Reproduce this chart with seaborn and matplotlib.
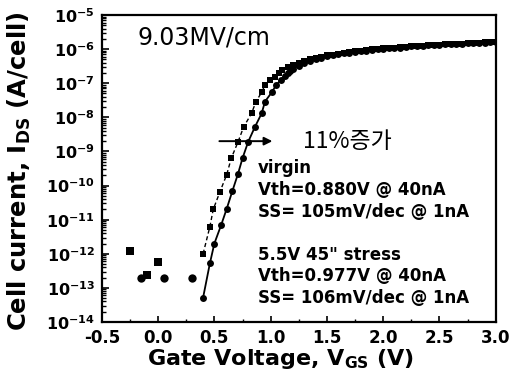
import math
import matplotlib
matplotlib.use("Agg")
import matplotlib.pyplot as plt
import seaborn as sns
import pandas as pd
from matplotlib.ticker import LogLocator, FuncFormatter, MultipleLocator, NullFormatter

# ---------------- data ----------------
virgin_v = [0.40, 0.46, 0.49, 0.55, 0.61, 0.65, 0.71, 0.76, 0.83, 0.87, 0.92, 0.95, 0.99, 1.04, 1.07,
            1.10, 1.15, 1.20, 1.25, 1.30, 1.35, 1.40, 1.45, 1.50, 1.55, 1.60, 1.65, 1.70, 1.75, 1.80,
            1.85, 1.90, 1.95, 2.00, 2.05, 2.10, 2.15, 2.20, 2.25, 2.30, 2.35, 2.40, 2.45, 2.50, 2.55,
            2.60, 2.65, 2.70, 2.75, 2.80, 2.85, 2.90, 2.95, 3.00]
virgin_i = [1.0e-12, 6.2e-12, 2.0e-11, 6.6e-11, 2.1e-10, 6.3e-10, 1.9e-9, 5.2e-9, 1.3e-8, 2.9e-8,
            5.4e-8, 8.9e-8, 1.23e-7, 1.55e-7, 2.0e-7,
            2.4e-7, 2.95e-7, 3.5e-7, 4.0e-7, 4.5e-7, 5.0e-7, 5.5e-7, 6.0e-7, 6.5e-7, 6.9e-7, 7.4e-7,
            7.8e-7, 8.1e-7, 8.5e-7, 8.9e-7, 9.3e-7, 9.8e-7, 1.00e-6, 1.05e-6, 1.07e-6, 1.10e-6,
            1.12e-6, 1.17e-6, 1.20e-6, 1.23e-6, 1.26e-6, 1.29e-6, 1.32e-6, 1.35e-6, 1.38e-6, 1.41e-6,
            1.44e-6, 1.45e-6, 1.48e-6, 1.51e-6, 1.55e-6, 1.56e-6, 1.58e-6, 1.62e-6]

stress_v = [0.40, 0.46, 0.50, 0.56, 0.61, 0.66, 0.71, 0.75, 0.80, 0.86, 0.92, 0.95, 1.01, 1.05, 1.09,
            1.125, 1.15, 1.175, 1.20, 1.25, 1.30, 1.35, 1.40, 1.45, 1.50, 1.55, 1.60, 1.65, 1.70, 1.75, 1.80,
            1.85, 1.90, 1.95, 2.00, 2.05, 2.10, 2.15, 2.20, 2.25, 2.30, 2.35, 2.40, 2.45, 2.50, 2.55,
            2.60, 2.65, 2.70, 2.75, 2.80, 2.85, 2.90, 2.95, 3.00]
stress_i = [5.2e-14, 5.2e-13, 2.0e-12, 6.9e-12, 2.1e-11, 6.9e-11, 2.2e-10, 6.3e-10, 1.9e-9, 5.2e-9,
            1.3e-8, 2.9e-8, 5.4e-8, 8.9e-8, 1.23e-7,
            1.6e-7, 2.0e-7, 2.3e-7, 2.6e-7, 3.3e-7, 3.9e-7, 4.5e-7, 5.1e-7, 5.6e-7, 6.1e-7, 6.6e-7, 7.1e-7, 7.5e-7,
            7.9e-7, 8.2e-7, 8.6e-7, 9.0e-7, 9.5e-7, 9.9e-7, 1.02e-6, 1.06e-6, 1.08e-6, 1.11e-6,
            1.15e-6, 1.19e-6, 1.22e-6, 1.25e-6, 1.28e-6, 1.31e-6, 1.34e-6, 1.37e-6, 1.40e-6, 1.43e-6,
            1.44e-6, 1.47e-6, 1.50e-6, 1.54e-6, 1.55e-6, 1.57e-6, 1.61e-6]

virgin_noise_v = [-0.25, -0.10, 0.00]
virgin_noise_i = [1.2e-12, 2.4e-13, 5.6e-13]
stress_noise_v = [-0.15, 0.05, 0.30]
stress_noise_i = [2.0e-13, 2.0e-13, 2.0e-13]

x_ticks = [-0.5, 0.0, 0.5, 1.0, 1.5, 2.0, 2.5, 3.0]
field_label = "9.03MV/cm"
shift_label = "11%증가"
virgin_lines = ["virgin", "Vth=0.880V @ 40nA", "SS= 105mV/dec @ 1nA"]
stress_lines = ['5.5V 45" stress', "Vth=0.977V @ 40nA", "SS= 106mV/dec @ 1nA"]

# ---------------- style ----------------
sns.set_style("ticks")
plt.rcParams["font.family"] = ["DejaVu Sans"]
plt.rcParams["mathtext.fontset"] = "dejavusans"
plt.rcParams["mathtext.default"] = "bf"
for k in ["text.color", "axes.labelcolor", "xtick.color", "ytick.color", "axes.edgecolor"]:
    plt.rcParams[k] = "black"

fig = plt.figure(figsize=(5.09, 3.74), dpi=100)
ax = fig.add_axes([0.200, 0.139, 0.774, 0.821])

df_v = pd.DataFrame({"V": virgin_v, "I": virgin_i})
df_s = pd.DataFrame({"V": stress_v, "I": stress_i})

sns.lineplot(data=df_v, x="V", y="I", ax=ax, color="black", marker="s", markersize=4.5,
             markeredgewidth=0, linestyle=(0, (3, 2)), linewidth=1.0, estimator=None, sort=False)
sns.lineplot(data=df_s, x="V", y="I", ax=ax, color="black", marker="o", markersize=5,
             markeredgewidth=0, linestyle="-", linewidth=1.3, estimator=None, sort=False)
sns.scatterplot(x=virgin_noise_v, y=virgin_noise_i, ax=ax, marker="s", s=32, color="black", linewidth=0)
sns.scatterplot(x=stress_noise_v, y=stress_noise_i, ax=ax, marker="o", s=36, color="black", linewidth=0)

ax.set_yscale("log")
ax.set_xlim(-0.5, 3.0)
ax.set_ylim(1e-14, 1e-5)

ax.yaxis.set_major_locator(LogLocator(base=10, numticks=20))
ax.yaxis.set_minor_locator(LogLocator(base=10, subs=[2, 3, 4, 5, 6, 7, 8, 9], numticks=20))
ax.yaxis.set_minor_formatter(NullFormatter())
ax.yaxis.set_major_formatter(FuncFormatter(lambda v, p: r"$\mathbf{10^{%d}}$" % round(math.log10(v))))
ax.set_xticks(x_ticks)
ax.set_xticklabels([f"{t:.1f}" for t in x_ticks])
ax.xaxis.set_minor_locator(MultipleLocator(0.25))

ax.tick_params(axis="both", which="both", direction="in", colors="black")
ax.tick_params(axis="y", which="major", length=5, width=1.2, labelsize=11.5, pad=5)
ax.tick_params(axis="y", which="minor", length=3, width=1.0)
ax.tick_params(axis="x", which="major", length=4, width=1.2, labelsize=12, pad=5)
ax.tick_params(axis="x", which="minor", length=2.5, width=1.0)
for lab in ax.get_xticklabels():
    lab.set_fontweight("bold")

for sp in ax.spines.values():
    sp.set_linewidth(1.6)
    sp.set_color("black")

ax.set_xlabel(r"Gate Voltage, V$_{\mathbf{GS}}$ (V)", fontsize=16, fontweight="bold")
ax.set_ylabel(r"Cell current, I$_{\mathbf{DS}}$ (A/cell)", fontsize=17.5, fontweight="bold")
ax.xaxis.set_label_coords(0.455, -0.083)
ax.yaxis.set_label_coords(-0.175, 0.49)

ax.text(0.091, 0.925, field_label, transform=ax.transAxes, fontsize=17, va="center", ha="left")

ax.annotate("", xy=(1.04, 2.0e-9), xytext=(0.52, 2.0e-9),
            arrowprops=dict(arrowstyle="-|>", color="black", lw=1.4, mutation_scale=12))
ax.text(1.29, 2.0e-9, shift_label, fontsize=16.5, va="center", ha="left",
        family=["Noto Sans CJK KR", "DejaVu Sans"])

for txt, yy in zip(virgin_lines, [0.502, 0.430, 0.358]):
    ax.text(0.396, yy, txt, transform=ax.transAxes, fontsize=12, fontweight="bold", va="center")
for txt, yy in zip(stress_lines, [0.218, 0.150, 0.078]):
    ax.text(0.396, yy, txt, transform=ax.transAxes, fontsize=12, fontweight="bold", va="center")

fig.savefig("out.png", dpi=100)
